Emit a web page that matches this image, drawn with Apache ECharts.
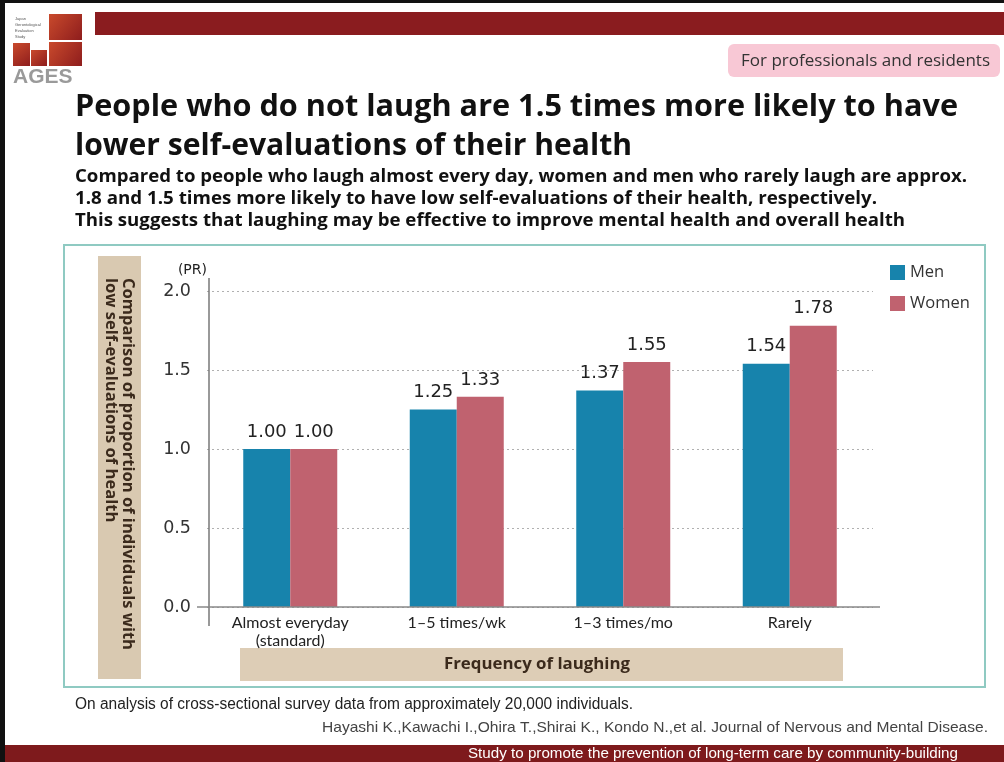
<!DOCTYPE html>
<html>
<head>
<meta charset="utf-8">
<script src="https://cdn.jsdelivr.net/npm/echarts@6/dist/echarts.min.js"></script>
<style>
html,body{margin:0;padding:0;background:#fff;}
#chart{width:1004px;height:762px;}
</style>
</head>
<body>
<div id="chart"></div>
<script>
const categories = ['Almost everyday\n(standard)', '1–5 times/wk', '1–3 times/mo', 'Rarely'];
const menValues = [1.00, 1.25, 1.37, 1.54];
const womenValues = [1.00, 1.33, 1.55, 1.78];
const seriesNames = ['Men', 'Women'];
const yTicks = [0, 0.5, 1.0, 1.5, 2.0];

const titleLines = ['People who do not laugh are 1.5 times more likely to have', 'lower self-evaluations of their health'];
const subtitleLines = [
  'Compared to people who laugh almost every day, women and men who rarely laugh are approx.',
  '1.8 and 1.5 times more likely to have low self-evaluations of their health, respectively.',
  'This suggests that laughing may be effective to improve mental health and overall health'
];
const yAxisTitleLines = ['Comparison of proportion of individuals with', 'low self-evaluations of health'];
const xAxisTitle = 'Frequency of laughing';
const footnote = 'On analysis of cross-sectional survey data from approximately 20,000 individuals.';
const citation = 'Hayashi K.,Kawachi I.,Ohira T.,Shirai K., Kondo N.,et al. Journal of Nervous and Mental Disease.';
const bannerText = 'Study to promote the prevention of long-term care by community-building';
const badgeText = 'For professionals and residents';

const MEN = '#1783ac';
const WOMEN = '#c0626f';
const dv = '"DejaVu Sans", Verdana, sans-serif';
const os = '"Open Sans", sans-serif';
const ls = '"Liberation Sans", Arial, sans-serif';

const mctx = document.createElement('canvas').getContext('2d');
function fit(text, font, target) {
  mctx.font = font;
  return target / mctx.measureText(text).width;
}
function fitText(text, font, x, y, target, extra) {
  return {
    type: 'text', x: x, y: y, scaleX: fit(text, font, target), originX: 0, originY: 0,
    style: Object.assign({text: text, font: font, fill: '#111', verticalAlign: 'middle', align: 'left'}, (extra && extra.style) || {})
  };
}

const chart = echarts.init(document.getElementById('chart'), null, {renderer: 'canvas'});

const logoGrad = () => new echarts.graphic.LinearGradient(0,0,1,1,[{offset:0,color:'#c94a2c'},{offset:1,color:'#8e1d1d'}]);
const titleFont = 'bold 30px ' + os;
const subFont = 'bold 17.5px ' + os;
const yTitleFont = 'bold 15.5px ' + os;

const yTitleEl = {
  type: 'text', x: 119, y: 278, rotation: -Math.PI / 2,
  scaleX: fit(yAxisTitleLines[0], yTitleFont, 372), originX: 0, originY: 0,
  style: {text: yAxisTitleLines[0] + '\n' + yAxisTitleLines[1], font: yTitleFont, fill: '#3b2a1c', align: 'left', verticalAlign: 'middle', lineHeight: 17}
};

const decor = [
  // frame
  {type: 'rect', shape: {x: 0, y: 0, width: 5, height: 762}, style: {fill: '#111'}, z: 10},
  {type: 'rect', shape: {x: 0, y: 0, width: 1004, height: 3}, style: {fill: '#111'}, z: 10},
  // top red bar
  {type: 'rect', shape: {x: 95, y: 12, width: 909, height: 23}, style: {fill: '#8a1c1f'}},
  // logo
  {type: 'rect', shape: {x: 49, y: 14, width: 33, height: 26}, style: {fill: logoGrad()}},
  {type: 'rect', shape: {x: 13, y: 43, width: 17, height: 23}, style: {fill: logoGrad()}},
  {type: 'rect', shape: {x: 31, y: 50, width: 16, height: 16}, style: {fill: logoGrad()}},
  {type: 'rect', shape: {x: 49, y: 42, width: 33, height: 24}, style: {fill: logoGrad()}},
  {type: 'text', x: 15, y: 16, style: {text: 'Japan\nGerontological\nEvaluation\nStudy', font: '4px sans-serif', fill: '#555', lineHeight: 6}},
  {type: 'text', x: 13, y: 67, style: {text: 'AGES', font: 'bold 21px ' + ls, fill: '#9a9a9a'}},
  // badge
  {type: 'rect', shape: {x: 728, y: 44, width: 272, height: 33, r: 6}, style: {fill: '#f8c8d5'}},
  fitText(badgeText, '16px ' + os, 741, 61, 249, {style: {fill: '#333'}}),
  // titles
  fitText(titleLines[0], titleFont, 75, 107, 883),
  fitText(titleLines[1], titleFont, 75, 146, 557),
  fitText(subtitleLines[0], subFont, 75, 177, 892),
  fitText(subtitleLines[1], subFont, 75, 199, 802),
  fitText(subtitleLines[2], subFont, 75, 221, 830),
  // teal frame
  {type: 'rect', shape: {x: 64, y: 245, width: 921, height: 442}, style: {fill: 'none', stroke: '#8fcac2', lineWidth: 2}},
  // y title box
  {type: 'rect', shape: {x: 98, y: 256, width: 43, height: 423}, style: {fill: '#d9c9b1'}},
  yTitleEl,
  // x title box
  {type: 'rect', shape: {x: 240, y: 648, width: 603, height: 33}, style: {fill: '#ddcdb6'}},
  fitText(xAxisTitle, 'bold 16px ' + os, 444, 664, 186, {style: {fill: '#3b2a1c'}}),
  // footnotes
  fitText(footnote, '16px ' + ls, 75, 705, 558, {style: {fill: '#222'}}),
  fitText(citation, '15px ' + ls, 322, 728, 666, {style: {fill: '#444'}}),
  // bottom banner
  {type: 'rect', shape: {x: 5, y: 745, width: 999, height: 17}, style: {fill: '#7e1a1c'}},
  fitText(bannerText, '15px ' + ls, 468, 754, 490, {style: {fill: '#fff'}})
];

const option = {
  backgroundColor: '#fff',
  animation: false,
  legend: {
    data: seriesNames,
    orient: 'vertical',
    left: 885,
    top: 259,
    itemWidth: 15,
    itemHeight: 15,
    itemGap: 14,
    icon: 'rect',
    textStyle: {fontSize: 16.5, color: '#333', fontFamily: os}
  },
  grid: {left: 207, top: 291, width: 666, height: 316, containLabel: false},
  xAxis: {
    type: 'category',
    data: categories,
    axisLine: {show: false},
    axisTick: {show: false},
    axisLabel: {fontSize: 16, color: '#222', fontFamily: '"Lato", sans-serif', margin: 7, lineHeight: 18}
  },
  yAxis: {
    type: 'value',
    min: 0,
    max: 2,
    interval: 0.5,
    name: '(PR)',
    nameLocation: 'end',
    nameGap: 14,
    nameTextStyle: {fontSize: 14, color: '#222', fontFamily: dv, align: 'right'},
    axisLine: {show: false},
    axisTick: {show: false},
    axisLabel: {fontSize: 17.5, color: '#333', fontFamily: dv, margin: 16, formatter: v => v.toFixed(1)},
    splitLine: {lineStyle: {color: '#b0b0b0', type: [2, 3], width: 1}}
  },
  series: [
    {
      name: seriesNames[0], type: 'bar', data: menValues, barWidth: 47, barGap: '0%',
      itemStyle: {color: MEN},
      label: {show: true, position: 'top', distance: 8, formatter: p => p.value.toFixed(2), fontSize: 18, color: '#222', fontFamily: dv}
    },
    {
      name: seriesNames[1], type: 'bar', data: womenValues, barWidth: 47, barGap: '0%',
      itemStyle: {color: WOMEN},
      label: {show: true, position: 'top', distance: 8, formatter: p => p.value.toFixed(2), fontSize: 18, color: '#222', fontFamily: dv}
    }
  ],
  graphic: decor
};

chart.setOption(option);

// axis lines drawn with positions from the library's own scales
const yZero = chart.convertToPixel({yAxisIndex: 0}, 0);
const yTop = chart.convertToPixel({yAxisIndex: 0}, 2);
const gridLeft = 207, gridRight = 873;
decor.push(
  {type: 'line', shape: {x1: gridLeft + 2, y1: yTop - 13, x2: gridLeft + 2, y2: yZero + 19}, style: {stroke: '#777', lineWidth: 1.5}, z: 5},
  {type: 'line', shape: {x1: gridLeft - 10, y1: yZero, x2: gridRight + 7, y2: yZero}, style: {stroke: '#888', lineWidth: 1.5}, z: 5}
);
chart.setOption({graphic: decor}, {replaceMerge: ['graphic']});
</script>
</body>
</html>
